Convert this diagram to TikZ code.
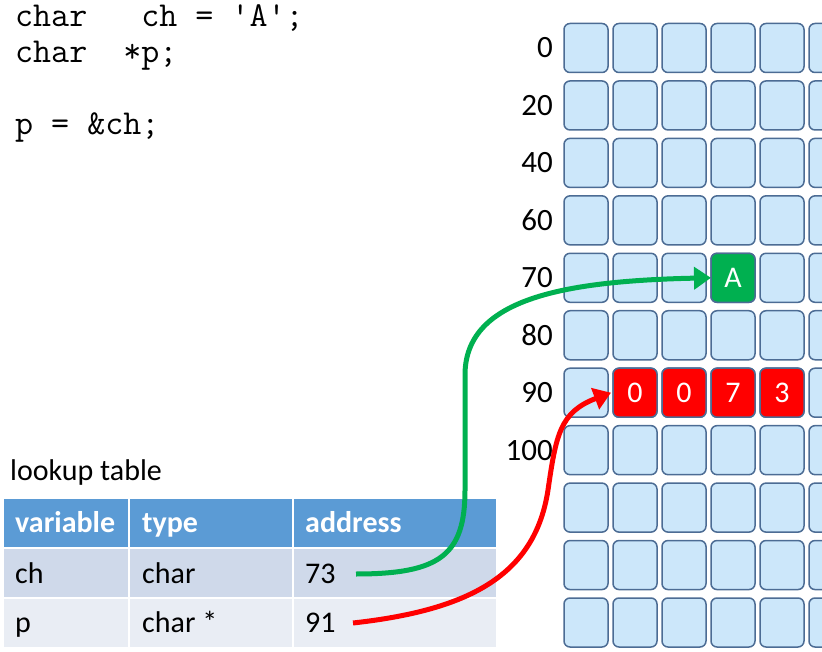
\documentclass[tikz,border=0pt]{standalone}
\usepackage{fontspec}
\setmainfont{Carlito}
\usetikzlibrary{arrows.meta}
\definecolor{cellfill}{HTML}{CCE7FA}
\definecolor{cellline}{HTML}{4C6C94}
\definecolor{hdr}{HTML}{5B9BD5}
\definecolor{rowa}{HTML}{CFD9EA}
\definecolor{rowb}{HTML}{E9EDF4}
\definecolor{grn}{HTML}{00B050}
\definecolor{rd}{HTML}{FF0000}
\begin{document}
\begin{tikzpicture}[x=1pt,y=-1pt,
  cell/.style={draw=cellline, line width=1.5pt, fill=cellfill, rounded corners=6pt,
    minimum width=44pt, minimum height=49pt, inner sep=0pt, outer sep=0pt},
  hotcell/.style={cell, text=white, font=\fontsize{30}{36}\selectfont},
  code/.style={anchor=base west, inner sep=0pt, font=\ttfamily\fontsize{35}{40}\selectfont},
  lbl/.style={anchor=east, inner sep=0pt, font=\fontsize{31}{36}\selectfont},
  tcell/.style={anchor=north west, inner sep=0pt, outer sep=0pt, minimum height=47.5pt},
  ttext/.style={anchor=base west, inner sep=0pt, font=\fontsize{30}{36}\selectfont},
  htext/.style={ttext, text=white, font=\bfseries\fontsize{30}{36}\selectfont},
  link/.style={line width=5pt, -{Triangle[length=17pt,width=22pt]}}
]
\useasboundingbox (0,0) rectangle (822,652);

% code
\node[code] (l1) at (15,26.5) {char\ \ \ ch\ =\ \symbol{39}A\symbol{39};};
\node[code] (l2) at (15,62.5) {char\ \ *p;};
\node[code] (l4) at (15,134.5) {p\ =\ \&ch;};

% memory grid
\foreach \j in {0,...,10} {
  \foreach \i in {0,...,5} {
    \node[cell] (c-\i-\j) at ({586+49*\i},{48+57.45*\j}) {};
  }
}
\foreach \lab [count=\j from 0] in {0,20,40,60,70,80,90,100} {
  \node[lbl] (lab\j) at (553,{48+57.45*\j}) {\lab};
}
\node[hotcell, fill=grn] (cA) at (c-3-4) {A};
\node[hotcell, fill=rd] (r1) at (c-1-6) {0};
\node[hotcell, fill=rd] (r2) at (c-2-6) {0};
\node[hotcell, fill=rd] (r3) at (c-3-6) {7};
\node[hotcell, fill=rd] (r4) at (c-4-6) {3};

% lookup table
\node[anchor=base west, inner sep=0pt, font=\fontsize{30}{36}\selectfont] (title) at (10,480) {lookup table};
\node[tcell, fill=hdr, minimum width=124pt] (h1) at (4,499) {};
\node[tcell, fill=hdr, minimum width=162pt] (h2) at (130,499) {};
\node[tcell, fill=hdr, minimum width=202pt] (h3) at (294,499) {};
\node[tcell, fill=rowa, minimum width=124pt] (a1) at (4,549) {};
\node[tcell, fill=rowa, minimum width=162pt] (a2) at (130,549) {};
\node[tcell, fill=rowa, minimum width=202pt] (a3) at (294,549) {};
\node[tcell, fill=rowb, minimum width=124pt] (b1) at (4,599) {};
\node[tcell, fill=rowb, minimum width=162pt] (b2) at (130,599) {};
\node[tcell, fill=rowb, minimum width=202pt] (b3) at (294,599) {};

\node[htext] (tv) at (15,532) {variable};
\node[htext] (tt) at (142,532) {type};
\node[htext] (ta) at (305,532) {address};
\node[ttext] (tch) at (15,583) {ch};
\node[ttext] (tchar) at (142,583) {char};
\node[ttext] (t73) at (305,583) {73};
\node[ttext] (tp) at (15,632) {p};
\node[ttext] (tcharp) at (142,632) {char *};
\node[ttext] (t91) at (305,632) {91};

% connectors
\coordinate (gs) at (356,574);
\coordinate (rs) at (353,623);
\draw[link, grn] (gs) .. controls (440,574) and (465,555) .. (465,490)
  -- (465,375) .. controls (465,300) and (560,281) .. (cA.west);
\draw[link, rd] (rs) .. controls (470,610) and (535,575) .. (548,490)
  .. controls (556,435) and (560,412) .. ([xshift=-2pt]r1.west);
\end{tikzpicture}
\end{document}
